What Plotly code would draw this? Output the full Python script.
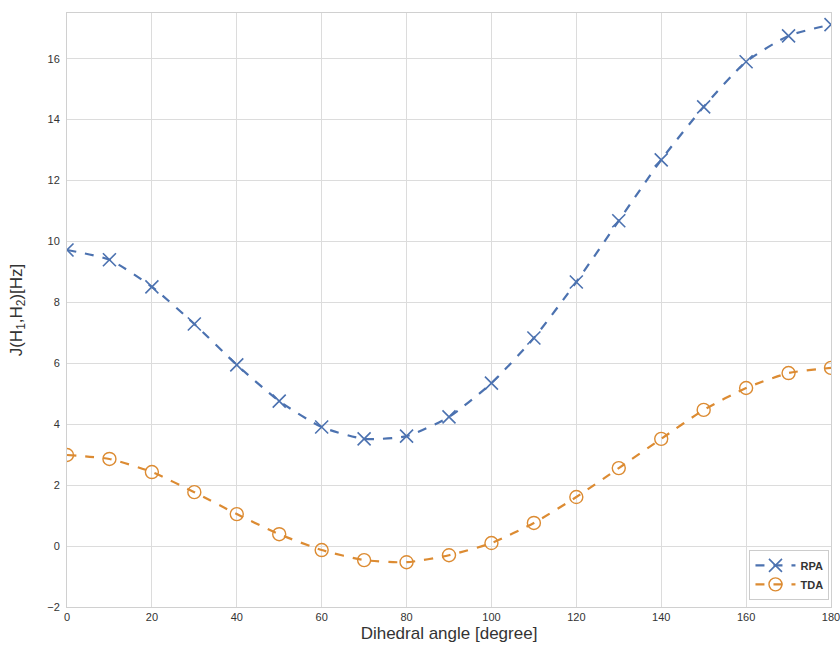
import plotly.graph_objects as go

angles = [0, 10, 20, 30, 40, 50, 60, 70, 80, 90, 100, 110, 120, 130, 140, 150, 160, 170, 180]
rpa = [9.72, 9.40, 8.51, 7.29, 5.95, 4.76, 3.91, 3.52, 3.61, 4.24, 5.35, 6.83, 8.67, 10.68, 12.68, 14.42, 15.90, 16.75, 17.12]
tda = [2.99, 2.86, 2.43, 1.77, 1.05, 0.39, -0.13, -0.46, -0.53, -0.30, 0.10, 0.76, 1.61, 2.56, 3.52, 4.47, 5.19, 5.68, 5.85]
x_ticks = [0, 20, 40, 60, 80, 100, 120, 140, 160, 180]
y_ticks = [-2, 0, 2, 4, 6, 8, 10, 12, 14, 16]

blue = "#4c72b0"
orange = "#dc8b32"

fig = go.Figure()
fig.add_trace(go.Scatter(
    x=angles, y=rpa, name="<b>RPA</b>", mode="lines+markers",
    line=dict(color=blue, width=2.2, dash="dash", shape="spline", smoothing=0.6),
    marker=dict(symbol="x-thin", size=13, line=dict(color=blue, width=1.6), color=blue),
))
fig.add_trace(go.Scatter(
    x=angles, y=tda, name="<b>TDA</b>", mode="lines+markers",
    line=dict(color=orange, width=2.2, dash="dash", shape="spline", smoothing=0.6),
    marker=dict(symbol="circle-open", size=13, line=dict(color=orange, width=1.4), color=orange),
))

axis_common = dict(
    showgrid=True, gridcolor="#dcdcdc", gridwidth=1,
    showline=True, linecolor="#d0d0d0", linewidth=1, mirror=True,
    zeroline=False, ticks="", automargin=False, ticklabeloverflow="allow",
    tickfont=dict(size=11, color="#333333", family="Arial, Liberation Sans, sans-serif"),
)

fig.update_layout(
    width=840, height=654,
    margin=dict(l=67, r=9, t=13, b=47),
    paper_bgcolor="white", plot_bgcolor="white",
    font=dict(family="Arial, Liberation Sans, sans-serif", color="#333333"),
    xaxis=dict(range=[0, 180], tickvals=x_ticks,
               title=dict(text="Dihedral angle [degree]", font=dict(size=17, color="#333333"), standoff=4),
               **axis_common),
    yaxis=dict(range=[-2, 17.5], tickvals=y_ticks, ticklabelstandoff=4,
               title=dict(text="J(H<sub>1</sub>,H<sub>2</sub>)[Hz]", font=dict(size=17, color="#333333"), standoff=20),
               **axis_common),
    legend=dict(x=0.998, y=0.012, xanchor="right", yanchor="bottom",
                bgcolor="white", bordercolor="#cccccc", borderwidth=1,
                font=dict(size=11, color="#333333"), itemwidth=40),
    showlegend=True,
)

fig.write_html("out.html", config={"displayModeBar": False},
               post_script="document.body.style.margin='0';document.body.style.overflow='hidden';")
